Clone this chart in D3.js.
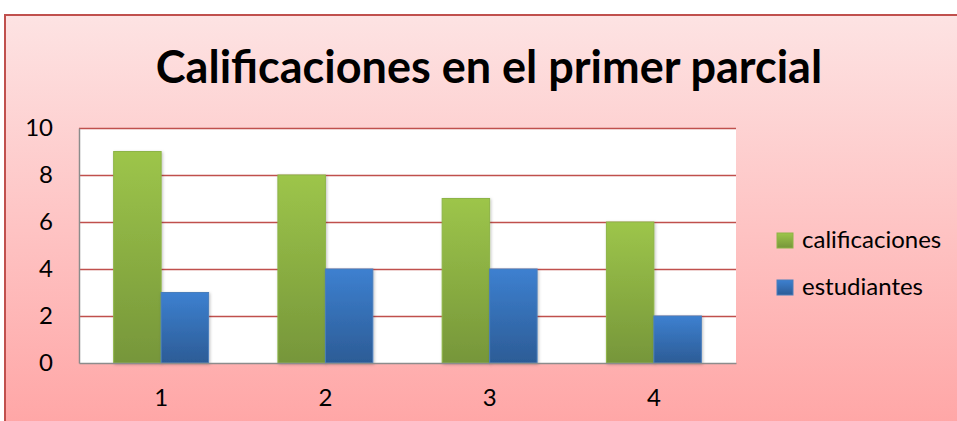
<!DOCTYPE html>
<html>
<head>
<meta charset="utf-8">
<script src="https://cdn.jsdelivr.net/npm/d3@7"></script>
<style>
  html, body { margin: 0; padding: 0; background: #ffffff; }
  svg { display: block; }
</style>
</head>
<body>
<svg id="chart" width="957" height="421"></svg>
<script>
// Chart data
const categories = ["1", "2", "3", "4"];
const calificaciones = [9, 8, 7, 6];
const estudiantes = [3, 4, 4, 2];
const seriesNames = ["calificaciones", "estudiantes"];
const yTicks = [0, 2, 4, 6, 8, 10];
const titleText = "Calificaciones en el primer parcial";

const W = 957, H = 421;
const FONT = "Lato, 'Open Sans', sans-serif";
const svg = d3.select("#chart");
const defs = svg.append("defs");

// Background gradient of the chart area
const bg = defs.append("linearGradient").attr("id", "bgGrad")
  .attr("x1", 0).attr("y1", 0).attr("x2", 0).attr("y2", 1);
bg.append("stop").attr("offset", "0%").attr("stop-color", "#fde3e3");
bg.append("stop").attr("offset", "100%").attr("stop-color", "#ffa3a3");

// Bar gradients
const gGreen = defs.append("linearGradient").attr("id", "greenGrad")
  .attr("x1", 0).attr("y1", 0).attr("x2", 0).attr("y2", 1);
gGreen.append("stop").attr("offset", "0%").attr("stop-color", "#9dc54a");
gGreen.append("stop").attr("offset", "100%").attr("stop-color", "#76963a");
const gBlue = defs.append("linearGradient").attr("id", "blueGrad")
  .attr("x1", 0).attr("y1", 0).attr("x2", 0).attr("y2", 1);
gBlue.append("stop").attr("offset", "0%").attr("stop-color", "#3d80d0");
gBlue.append("stop").attr("offset", "100%").attr("stop-color", "#2c5c96");

const shadow = defs.append("filter").attr("id", "barShadow")
  .attr("x", "-20%").attr("y", "-10%").attr("width", "140%").attr("height", "120%");
shadow.append("feDropShadow").attr("dx", 1).attr("dy", 1)
  .attr("stdDeviation", 1.5).attr("flood-color", "#000").attr("flood-opacity", 0.25);

// Chart area with border
svg.append("rect")
  .attr("x", 5).attr("y", 15).attr("width", W + 10).attr("height", H + 10)
  .attr("fill", "url(#bgGrad)")
  .attr("stroke", "#c0504d").attr("stroke-width", 2);

// Title
svg.append("text")
  .attr("x", 489).attr("y", 83)
  .attr("text-anchor", "middle")
  .attr("font-family", FONT)
  .attr("font-weight", "bold")
  .attr("font-size", 45)
  .attr("fill", "#000")
  .text(titleText);

// Plot area
const plot = { left: 79, top: 128, right: 736, bottom: 363 };
const x = d3.scaleBand().domain(categories).range([plot.left, plot.right]).padding(0);
const y = d3.scaleLinear().domain([0, 10]).range([plot.bottom, plot.top]);

svg.append("rect")
  .attr("x", plot.left).attr("y", plot.top)
  .attr("width", plot.right - plot.left).attr("height", plot.bottom - plot.top)
  .attr("fill", "#ffffff");

// Gridlines
svg.append("g").selectAll("line").data(yTicks.filter(t => t > 0)).join("line")
  .attr("x1", plot.left).attr("x2", plot.right)
  .attr("y1", d => Math.round(y(d)) + 0.5).attr("y2", d => Math.round(y(d)) + 0.5)
  .attr("stroke", "#c0504d").attr("stroke-width", 1.5);

// Y axis
const yAxis = svg.append("g")
  .attr("transform", `translate(${plot.left},0)`)
  .call(d3.axisLeft(y).tickValues(yTicks).tickSize(0).tickPadding(26).tickFormat(d3.format("d")));
yAxis.select(".domain").attr("stroke", "#8c8c8c").attr("stroke-width", 1.5);
yAxis.selectAll("text")
  .attr("font-family", FONT)
  .attr("font-size", 24).attr("fill", "#000");

// Bars
const inner = d3.scaleBand().domain(seriesNames).range([0, x.bandwidth()]).paddingInner(0).paddingOuter(0.73);
const rows = categories.map((c, i) => ({ c, vals: [calificaciones[i], estudiantes[i]] }));
const fills = ["url(#greenGrad)", "url(#blueGrad)"];
const strokes = ["#8db446", "#4a7ebb"];

const groups = svg.append("g").selectAll("g").data(rows).join("g")
  .attr("transform", d => `translate(${x(d.c)},0)`);
groups.selectAll("rect").data(d => d.vals.map((v, k) => ({ v, k }))).join("rect")
  .attr("x", d => inner(seriesNames[d.k]))
  .attr("y", d => y(d.v))
  .attr("width", inner.bandwidth())
  .attr("height", d => y(0) - y(d.v))
  .attr("fill", d => fills[d.k])
  .attr("stroke", d => strokes[d.k]).attr("stroke-width", 1)
  .attr("filter", "url(#barShadow)");

// X axis
const xAxis = svg.append("g")
  .attr("transform", `translate(0,${plot.bottom})`)
  .call(d3.axisBottom(x).tickSize(0).tickPadding(26));
xAxis.select(".domain").attr("stroke", "#8c8c8c").attr("stroke-width", 1.5);
xAxis.selectAll("text")
  .attr("font-family", FONT)
  .attr("font-size", 24).attr("fill", "#000");

// Legend
const legend = svg.append("g").attr("transform", "translate(777,233)");
const li = legend.selectAll("g").data(seriesNames).join("g")
  .attr("transform", (d, i) => `translate(0,${i * 47})`);
li.append("rect").attr("width", 16).attr("height", 15)
  .attr("fill", (d, i) => fills[i]).attr("stroke", (d, i) => strokes[i]);
li.append("text").attr("x", 25).attr("y", 15)
  .attr("font-family", FONT)
  .attr("font-size", 24).attr("fill", "#000")
  .text(d => d);
</script>
</body>
</html>
